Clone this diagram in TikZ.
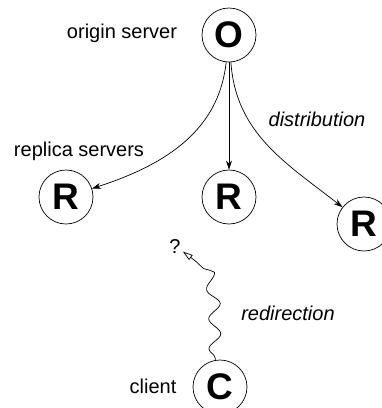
\documentclass[tikz,border=0pt]{standalone}
\usepackage{fontspec}
\setmainfont{Liberation Sans}
\usetikzlibrary{arrows.meta,decorations.pathmorphing}

\begin{document}
\begin{tikzpicture}[x=1pt,y=-1pt,>={Stealth[length=9pt,width=6pt]},line width=0.7pt,
  srv/.style={circle,draw,minimum size=54pt,inner sep=0pt,font=\fontsize{37}{37}\selectfont\bfseries},
  lbl/.style={font=\fontsize{20}{24}\selectfont},node distance=162pt]
\useasboundingbox (0,0) rectangle (382,408);

\node[srv] (o) at (229,35) {O};
 \node[srv] (r2) [below of=o] {R};
	\node[srv] (r1) at (66,197) {R};
	\node[srv] (r3) at (364,224) {R};
	\node[srv] (c) at (220,387) {C};

	\node[lbl] (los) at (122,33) {origin server};
	\node[lbl] (lrs) at (79,151) {replica servers};
	\node[lbl] (ldi) at (317,119) {\itshape distribution};
	\node[lbl] (lre) at (288,313) {\itshape redirection};
	\node[lbl] (lcl) at (153,386) {client};
	\node[lbl,inner sep=2pt] (q) at (175,247) {?};

	\path[->] (o) edge[out=-96,in=18] (r1)
	              edge (r2)
	              edge[out=-86,in=142] (r3);

	\draw[-{Triangle[open,length=10pt,width=6pt]},decorate,
	      decoration={snake,segment length=30pt,amplitude=6pt,pre length=2pt,post length=16pt}]
	      (c.100) to[out=92,in=-30] (q);
\end{tikzpicture}
\end{document}
